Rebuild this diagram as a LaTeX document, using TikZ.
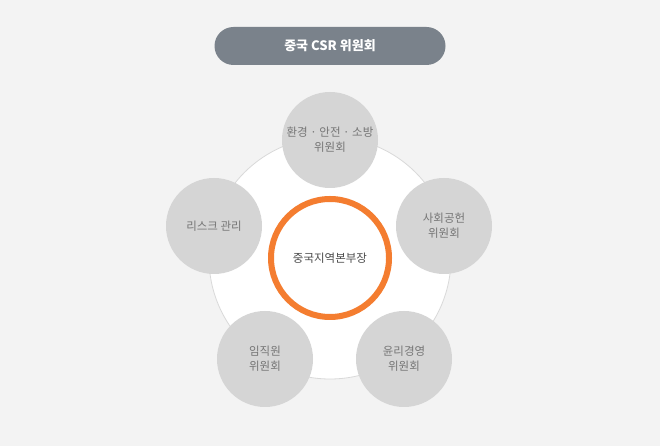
\documentclass[tikz,border=0pt]{standalone}
\usepackage{fontspec}
\setmainfont{Noto Sans CJK KR}
\usepackage{tikz}
\usetikzlibrary{positioning}
\definecolor{bggray}{HTML}{F3F3F3}
\definecolor{titlegray}{HTML}{7A828B}
\definecolor{circgray}{HTML}{D5D5D5}
\definecolor{rimgray}{HTML}{D9D9D9}
\definecolor{labelgray}{HTML}{767676}
\definecolor{ringorange}{HTML}{F47D30}
\tikzset{titlebox/.style={rectangle, rounded corners=19pt, fill=titlegray, minimum width=231pt, minimum height=38pt, text=white, font=\fontsize{13}{15}\selectfont\bfseries}}
\tikzset{outerdisc/.style={circle, fill=white, draw=rimgray, line width=0.8pt, minimum size=242pt, inner sep=0pt}}
\tikzset{hqring/.style={circle, fill=white, draw=ringorange, line width=6pt, minimum size=118pt, inner sep=0pt, text=black!70, font=\fontsize{11.5}{14}\selectfont}}
\tikzset{committee/.style={circle, fill=circgray, minimum size=96pt, inner sep=0pt, align=center, text=labelgray, font=\fontsize{11.5}{15}\selectfont}}

\begin{document}
\begin{tikzpicture}[x=1pt,y=1pt]
\fill[bggray] (0,0) rectangle (660,446);
\useasboundingbox (0,0) rectangle (660,446);
\node[titlebox] (title) at (330,400) {중국 CSR 위원회};
\node[outerdisc] (disc) at (330,188) {};
\node[hqring] (hq) at (disc.center) {중국지역본부장};
\foreach \name/\x/\y [count=\i from 0] in {{환경 · 안전 · 소방\\위원회}/330/306, {사회공헌\\위원회}/444/220, {윤리경영\\위원회}/404/87, {임직원\\위원회}/265/87, {리스크 관리}/214/220} {
	\node[committee] (comm\i) at (\x,\y) {\name};
}
\end{tikzpicture}
\end{document}
